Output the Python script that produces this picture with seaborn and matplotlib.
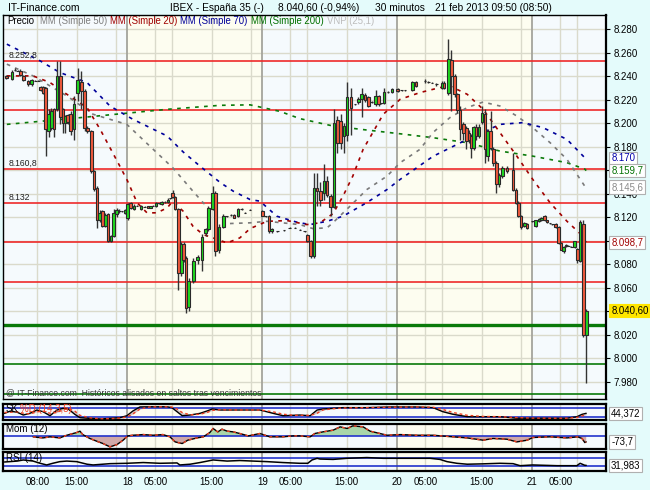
import matplotlib
matplotlib.use("Agg")
import matplotlib.pyplot as plt
import matplotlib.transforms as mtransforms
import numpy as np
import pandas as pd
import seaborn as sns

# ---------------------------------------------------------------- data
candle_time = [
    "15 02:30", "15 03:30", "15 04:00", "15 04:30", "15 05:00", "15 05:30", "15 06:20", "15 07:00", "15 07:40", "15 08:10",
    "15 08:35", "15 09:05", "15 09:30", "15 10:00", "15 10:30", "15 11:00", "15 11:30", "15 12:05", "15 12:35", "15 13:00",
    "15 13:25", "15 13:55", "15 14:30", "15 15:10", "15 15:50", "15 16:25", "15 16:55", "15 17:35", "15 18:05", "15 18:35",
    "15 19:05", "15 19:35", "15 20:05", "15 20:35", "15 21:05", "15 21:35", "15 22:05", "15 22:35", "15 23:05", "15 23:35",
    "18 00:05", "18 00:35", "18 01:10", "18 01:45", "18 02:25", "18 03:05", "18 03:40", "18 04:05", "18 04:35", "18 05:05",
    "18 05:35", "18 06:05", "18 06:40", "18 07:15", "18 07:40", "18 08:05", "18 08:30", "18 09:05", "18 09:35", "18 10:00",
    "18 10:25", "18 10:55", "18 11:45", "18 12:30", "18 13:15", "18 13:55", "18 14:25", "18 15:10", "18 15:40", "18 16:20",
    "18 17:05", "18 17:40", "18 18:25", "18 19:00", "18 19:40", "18 20:20", "18 20:55", "18 21:50",
    "19 00:00", "19 00:35", "19 01:10", "19 01:40", "19 02:40", "19 03:50", "19 04:50", "19 05:50", "19 06:40", "19 07:30",
    "19 08:00", "19 08:35", "19 09:10", "19 09:45", "19 10:20", "19 11:00", "19 11:30", "19 12:10", "19 12:45", "19 13:20",
    "19 13:55", "19 14:30", "19 15:05", "19 15:45", "19 16:30", "19 17:05", "19 17:40", "19 18:15", "19 18:50", "19 19:25",
    "19 20:10", "19 20:40", "19 21:10", "19 21:40", "19 22:20", "19 23:05",
    "20 00:05", "20 00:45", "20 01:20", "20 02:40", "20 03:20", "20 04:55", "20 05:30", "20 06:10", "20 06:55", "20 07:55",
    "20 08:20", "20 09:05", "20 09:35", "20 10:10", "20 10:40", "20 11:10", "20 11:45", "20 12:15", "20 12:45", "20 13:10",
    "20 13:35", "20 14:00", "20 14:30", "20 15:05", "20 15:35", "20 16:05", "20 16:35", "20 17:05", "20 17:35", "20 18:05",
    "20 18:40", "20 19:30", "20 20:35", "20 21:05", "20 21:30", "20 22:00", "20 22:35", "20 23:05",
    "21 00:00", "21 00:35", "21 01:10", "21 01:35", "21 02:10", "21 02:35", "21 03:10", "21 03:35", "21 04:10", "21 04:40",
    "21 05:05", "21 05:35", "21 06:00", "21 06:25", "21 06:55", "21 07:30", "21 08:00", "21 08:30", "21 09:05", "21 09:35",
]
candle_open = [
    8240, 8237.5, 8245, 8244.5, 8244.5, 8240, 8236, 8233, 8236, 8236,
    8231, 8231, 8230, 8193, 8196, 8212, 8212, 8240, 8212, 8200,
    8207, 8208, 8195, 8226, 8235, 8227, 8196, 8193, 8159, 8145,
    8118, 8125, 8113, 8123, 8100, 8104, 8123, 8125, 8125, 8124,
    8119, 8132, 8127, 8130, 8127, 8129, 8129.5, 8128, 8130, 8129.5,
    8132, 8131, 8133, 8133, 8136, 8141, 8137, 8127, 8073, 8097,
    8085, 8044, 8066, 8084, 8084, 8107, 8110, 8127, 8141, 8092,
    8112, 8121, 8122, 8122, 8121, 8127, 8124, 8126.5,
    8125, 8121, 8121, 8108, 8108, 8109, 8111, 8111, 8109.5, 8108,
    8105, 8100, 8087, 8145, 8142, 8141, 8151, 8138, 8129, 8203,
    8202, 8189, 8190, 8222, 8216, 8218, 8221, 8224, 8222, 8218,
    8216, 8223, 8217, 8217.5, 8226.6, 8226.6,
    8229, 8228, 8228, 8228, 8235, 8236, 8235, 8234.6, 8233, 8230,
    8234.6, 8225.5, 8254, 8240, 8224.6, 8211, 8199, 8196, 8192, 8189,
    8179, 8196.5, 8189, 8201, 8208, 8172, 8193, 8178, 8166, 8148,
    8155, 8162, 8160, 8143.6, 8132, 8121, 8112.6, 8114,
    8116.7, 8113, 8116.7, 8117.3, 8121, 8117.5, 8114.8, 8114, 8114, 8112,
    8098, 8091, 8096, 8096, 8095, 8095, 8093, 8083, 8114.6, 8020,
]
candle_high = [
    8241, 8245, 8247, 8245, 8246, 8241, 8237, 8237.5, 8236.5, 8236.5,
    8232, 8232, 8231, 8212, 8213, 8213, 8253, 8253, 8213, 8207,
    8208, 8210, 8223, 8247, 8244, 8229, 8198, 8194, 8160, 8147,
    8126, 8126, 8124, 8124, 8105, 8127, 8128, 8127, 8125.5, 8127,
    8132, 8133, 8131, 8130.5, 8130.5, 8129.5, 8130, 8130, 8130.5, 8133,
    8132.5, 8134, 8133.5, 8136, 8136.5, 8143, 8138, 8128, 8099, 8099,
    8087, 8068, 8085, 8088, 8106, 8111, 8130, 8147, 8142, 8114,
    8123, 8121.5, 8122.5, 8123, 8128, 8127.5, 8124.5, 8127,
    8126, 8121.5, 8122, 8111, 8108.5, 8109.5, 8111.5, 8111.5, 8110, 8108.5,
    8106, 8101, 8158, 8158, 8150, 8165, 8155, 8140, 8212, 8206,
    8208, 8200, 8235, 8230, 8216.5, 8222, 8230, 8226, 8223, 8218.5,
    8228, 8224, 8217.5, 8230, 8227, 8230,
    8230, 8228.5, 8228.5, 8236, 8236, 8237.5, 8235.5, 8235, 8234.5, 8235.5,
    8236, 8271.5, 8262, 8242, 8226, 8215, 8201, 8198, 8194, 8191,
    8198, 8199, 8199, 8215, 8212, 8195, 8210, 8180, 8168, 8158,
    8164, 8164, 8175, 8145, 8134, 8122, 8116, 8115,
    8117, 8118, 8119.5, 8120, 8122, 8118, 8115.2, 8114.4, 8115, 8113,
    8099, 8096, 8097.5, 8096.4, 8095.4, 8100, 8094, 8118, 8118, 8042,
]
candle_low = [
    8238, 8237, 8244, 8244, 8240, 8236, 8232, 8232, 8235.5, 8235.5,
    8227, 8225, 8172, 8188, 8194, 8188, 8210, 8199, 8192, 8192,
    8199, 8190, 8186, 8219, 8212, 8193, 8192, 8158, 8142, 8111,
    8116, 8112, 8112, 8099, 8099, 8103, 8120, 8124, 8124.5, 8123,
    8118, 8127, 8126, 8129.5, 8126, 8128.5, 8127.5, 8127.5, 8129.5, 8129,
    8131.5, 8130.5, 8132.5, 8132.5, 8135.5, 8136, 8126, 8058, 8070, 8082,
    8039, 8040, 8064, 8080, 8074, 8104, 8108, 8126, 8087, 8090,
    8111, 8120.5, 8121.5, 8119, 8120, 8126.5, 8123.5, 8126,
    8121, 8120.5, 8107, 8107, 8107.5, 8108.5, 8110.5, 8110.5, 8109, 8107.5,
    8099, 8085, 8085, 8130, 8130, 8135, 8137, 8121, 8128, 8175,
    8178, 8175, 8185, 8190, 8215.5, 8216, 8205, 8218, 8214, 8217.5,
    8215, 8215, 8216.5, 8216, 8226, 8226,
    8226.5, 8227.5, 8227.5, 8227, 8231, 8234.5, 8234.5, 8234, 8231.5, 8229,
    8229, 8224, 8210, 8222, 8209, 8186, 8186, 8178, 8183, 8170,
    8177, 8186, 8187, 8199, 8166, 8168, 8177, 8164, 8141, 8146,
    8153, 8158, 8142, 8131, 8120, 8110, 8112, 8110,
    8116.4, 8112, 8116, 8117, 8117, 8115, 8114.4, 8113.6, 8111, 8097,
    8092, 8090, 8095, 8095.6, 8094.6, 8094, 8081, 8082, 8018.6, 7979,
]
candle_close = [
    8238.5, 8243.5, 8245.5, 8244.5, 8241, 8236.5, 8233, 8236.5, 8236, 8236,
    8228, 8226, 8195, 8208, 8210, 8195, 8240, 8205, 8200, 8206,
    8201, 8193, 8216, 8237, 8227, 8196, 8193, 8159, 8144, 8118,
    8124, 8113, 8122, 8100, 8104, 8124, 8126, 8125.5, 8125, 8126,
    8131, 8128, 8130, 8130, 8130, 8129, 8128, 8129.5, 8130, 8132,
    8132, 8133, 8133, 8135, 8136, 8137, 8127, 8073, 8097, 8084,
    8043, 8066, 8083, 8086, 8103, 8110, 8128, 8141, 8091, 8112,
    8121, 8121, 8122, 8119.5, 8127, 8127, 8124, 8126.5,
    8121.5, 8121, 8108, 8110, 8108, 8109, 8111, 8111, 8109.5, 8108,
    8100, 8087, 8145, 8142, 8135, 8151, 8139, 8129, 8200, 8183,
    8183, 8197.5, 8222, 8213, 8216, 8221, 8225, 8220, 8215, 8218,
    8223, 8216, 8217, 8226.6, 8226.6, 8229.5,
    8227, 8228, 8228, 8235, 8232, 8236.2, 8235, 8234.6, 8233.2, 8234.6,
    8230, 8255, 8240, 8224.6, 8211, 8195, 8192, 8185, 8186, 8179,
    8196.5, 8189, 8196.5, 8209, 8178, 8193, 8179, 8166, 8148, 8156,
    8162, 8159, 8143.6, 8132, 8121, 8112, 8115, 8111,
    8116.7, 8117.5, 8118.7, 8119.5, 8117.5, 8115.8, 8114.8, 8114, 8112, 8098,
    8092.5, 8095, 8096.2, 8096, 8095, 8099.5, 8084, 8116, 8020, 8040.6,
]

ma20_time = ["15 02:35", "15 07:15", "15 10:15", "15 13:15", "15 16:50", "15 19:10", "15 20:55", "15 22:40",
             "18 00:00", "18 01:45", "18 03:30", "18 05:15", "18 07:05", "18 08:05", "18 09:55", "18 11:40",
             "18 13:30", "18 15:15", "18 17:45", "18 20:00", "18 21:50", "19 00:50", "19 04:25", "19 07:55",
             "19 10:15", "19 12:35", "19 14:20", "19 16:05", "19 17:55", "19 21:30", "20 00:30", "20 04:00",
             "20 07:35", "20 09:20", "20 12:25", "20 15:15", "20 18:15", "20 21:15", "21 00:05", "21 03:10",
             "21 06:10", "21 08:30", "21 09:35"]
ma20_val = [8240.2, 8240.2, 8234.6, 8224.6, 8213.3, 8194.8, 8179.2, 8163.5,
            8151.3, 8132.3, 8123.8, 8123.8, 8128.0, 8133.7, 8125.2, 8112.4,
            8105.3, 8102.5, 8098.2, 8102.5, 8110.4, 8116.6, 8117.2, 8113.8,
            8115.3, 8123.2, 8137.9, 8155.0, 8177.7, 8207.6, 8220.3, 8226.0,
            8230.3, 8231.7, 8224.6, 8211.8, 8192.0, 8172.0, 8152.2, 8132.3,
            8116.6, 8106.1, 8098.7]

ma50_time = ["15 02:35", "15 07:15", "15 13:15", "15 17:55", "15 23:55", "18 04:00", "18 08:05", "18 11:40",
             "18 13:30", "18 15:55", "18 18:15", "18 21:50", "19 00:50", "19 06:40", "19 09:00", "19 11:30",
             "19 12:35", "19 15:35", "19 18:35", "19 22:10", "20 00:30", "20 04:00", "20 06:20", "20 09:20",
             "20 12:25", "20 15:15", "20 18:15", "20 21:15", "21 00:05", "21 03:10", "21 06:10", "21 09:20",
             "21 09:35"]
ma50_val = [8250.2, 8240.2, 8223.2, 8207.6, 8199.0, 8180.5, 8162.1, 8142.2,
            8132.3, 8120.9, 8114.7, 8115.3, 8116.6, 8113.8, 8110.4, 8111.0,
            8115.5, 8129.4, 8143.6, 8155.0, 8166.4, 8177.7, 8192.0, 8204.7,
            8213.3, 8218.0, 8214.6, 8206.1, 8196.2, 8183.4, 8169.2, 8146.4,
            8145.6]

ma70_time = ["15 02:35", "15 08:30", "15 12:00", "15 16:50", "15 20:55", "18 01:00", "18 07:05", "18 09:55",
             "18 13:00", "18 16:30", "18 18:50", "18 21:50", "18 23:35", "19 02:35", "19 06:10", "19 08:30",
             "19 11:30", "19 14:20", "19 18:35", "19 22:10", "20 00:30", "20 06:20", "20 12:25", "20 18:15",
             "20 22:25", "21 01:55", "21 06:10", "21 09:20", "21 09:35"]
ma70_val = [8267.2, 8253.0, 8243.1, 8234.6, 8214.6, 8203.3, 8189.1, 8175.6,
            8163.2, 8149.6, 8142.2, 8135.1, 8133.7, 8120.9, 8115.8, 8113.8,
            8116.6, 8120.9, 8132.5, 8143.6, 8152.2, 8171.8, 8186.2, 8199.0,
            8200.5, 8196.2, 8186.2, 8170.6, 8170.0]

ma200_time = ["15 02:35", "15 15:35", "18 07:05", "18 16:30", "18 21:50", "19 03:10", "19 06:40", "19 12:35",
              "19 18:35", "20 00:30", "20 06:20", "20 12:25", "20 18:15", "21 00:05", "21 06:10", "21 09:20",
              "21 09:35"]
ma200_val = [8199.0, 8204.7, 8211.8, 8215.2, 8215.6, 8210.0, 8203.9, 8197.6,
             8194.2, 8191.0, 8187.7, 8183.4, 8176.3, 8172.0, 8166.4, 8161.0,
             8159.7]

level_red = [8252.8, 8211.2, 8160.8, 8132.0, 8098.7, 8065.0]
level_green = [8028.0, 7995.0, 7969.5]
level_green_width = [2.4, 1.2, 1.2]
level_label_val = [8252.8, 8160.8, 8132.0]
level_label_txt = ["8.252,8", "8.160,8", "8.132"]

sk_time = ["15 02:10", "15 03:10", "15 04:25", "15 05:30", "15 06:40", "15 07:55", "15 09:00", "15 10:15",
           "15 11:30", "15 12:35", "15 13:30", "15 14:40", "15 15:35", "15 17:20", "15 19:10", "15 20:55",
           "15 22:40", "15 23:55", "18 01:00", "18 02:15", "18 04:00", "18 07:05", "18 07:55", "18 08:50",
           "18 09:45", "18 11:10", "18 12:55", "18 14:10", "18 15:05", "18 16:30", "18 18:50", "18 21:15",
           "18 23:35", "19 01:55", "19 03:40", "19 05:30", "19 06:40", "19 08:30", "19 09:45", "19 10:45",
           "19 12:35", "19 14:20", "19 18:35", "19 22:40", "20 03:30", "20 06:20", "20 08:05", "20 09:55",
           "20 12:25", "20 15:15", "20 18:15", "20 21:15", "21 00:05", "21 03:10", "21 06:10", "21 07:55",
           "21 08:50", "21 09:35"]
sk_val = [44, 60, 52, 32, 44, 68, 56, 27, 68, 80, 75, 37, 13, 8, 4, 8, 13, 27, 61, 90,
          91, 91, 85, 56, 27, 32, 44, 61, 75, 68, 68, 68, 68, 44, 27, 30, 32, 27, 68, 75,
          80, 85, 85, 90, 90, 85, 56, 37, 20, 20, 20, 9, 9, 9, 9, 20, 37, 44.372]
sd_val = [50, 52, 55, 45, 40, 55, 60, 45, 50, 70, 78, 60, 30, 12, 6, 6, 10, 18, 40, 75,
          90, 91, 89, 75, 50, 33, 38, 50, 65, 70, 68, 68, 68, 55, 38, 30, 30, 29, 45, 68,
          77, 82, 85, 88, 90, 88, 72, 50, 30, 22, 20, 14, 10, 9, 9, 14, 25, 35]

mom_time = ["15 07:15", "15 09:00", "15 10:15", "15 12:00", "15 13:15", "15 15:00", "15 15:35", "15 16:05",
            "15 17:20", "15 18:35", "15 19:40", "15 20:55", "15 22:10", "15 23:15", "18 00:05", "18 01:00",
            "18 02:50", "18 04:35", "18 06:20", "18 07:35", "18 08:30", "18 09:45", "18 10:45", "18 12:25",
            "18 13:30", "18 14:40", "18 15:15", "18 16:05", "18 16:50", "18 17:45", "18 18:50", "18 20:00",
            "18 21:30", "18 23:35", "19 01:20", "19 03:40", "19 05:30", "19 06:40", "19 08:30", "19 09:20",
            "19 10:45", "19 12:35", "19 13:50", "19 15:05", "19 16:05", "19 17:55", "19 19:10", "19 20:55",
            "19 22:10", "20 00:30", "20 03:30", "20 06:20", "20 09:55", "20 12:25", "20 15:15", "20 17:00",
            "20 19:30", "20 21:15", "20 23:05", "21 00:05", "21 03:10", "21 06:10", "21 08:05", "21 08:50",
            "21 09:20", "21 09:35"]
mom_val = [-12, -25, -12, -25, 8, 41, 58, 16, -32, -66, -94, -135, -107, -53, 0, 8,
           16, 8, 16, -12, -74, -94, -53, -25, -12, 41, 91, 49, 82, 58, 49, 29,
           0, 29, -12, -12, 0, 0, -12, 29, 49, 70, 111, 91, 123, 111, 58, 29,
           8, 16, 8, 8, -12, -25, -53, -32, -41, -74, -53, -20, -12, -25, -12, -32,
           -82, -73.7]

rsi_time = ["15 02:10", "15 04:25", "15 05:30", "15 07:15", "15 08:30", "15 09:40", "15 10:45", "15 12:00",
            "15 13:15", "15 15:00", "15 16:50", "15 17:55", "15 20:55", "15 23:55", "18 02:50", "18 05:50",
            "18 08:50", "18 09:20", "18 11:10", "18 12:55", "18 15:15", "18 17:45", "18 20:00", "18 22:20",
            "19 00:50", "19 03:40", "19 06:40", "19 08:05", "19 08:50", "19 09:45", "19 10:15", "19 12:35",
            "19 15:05", "19 18:35", "19 21:30", "20 00:00", "20 02:15", "20 05:50", "20 07:35", "20 08:50",
            "20 10:35", "20 12:25", "20 15:15", "20 18:15", "20 20:35", "20 21:50", "21 00:05", "21 04:25",
            "21 06:10", "21 07:55", "21 08:30", "21 09:20", "21 09:35"]
rsi_val = [50, 55, 61, 55, 43, 34, 43, 52, 55, 52, 38, 34, 41, 43, 47, 43,
           45, 34, 38, 47, 61, 55, 58, 55, 52, 47, 43, 43, 61, 70, 66, 64,
           70, 74, 70, 70, 70, 70, 64, 52, 43, 38, 40, 43, 41, 30, 34, 30,
           30, 30, 43, 32, 31.983]

price_ticks = list(range(7980, 8281, 20))
hidden_ticks = [8160, 8100, 8040]          # covered by the value boxes in the original
xtick_time = ["15 08:00", "15 15:00", "18 00:00", "18 05:00", "18 15:00", "19 00:00", "19 05:00",
              "19 15:00", "20 00:00", "20 05:00", "20 15:00", "21 00:00", "21 05:00"]
xtick_label = ["08:00", "15:00", "18", "05:00", "15:00", "19", "05:00",
               "15:00", "20", "05:00", "15:00", "21", "05:00"]

# ---------------------------------------------------------------- helpers
DAY_INDEX = {"15": 0, "18": 1, "19": 2, "20": 3, "21": 4}


def tpos(s):
    d, hm = s.split()
    hh, mm = hm.split(":")
    return DAY_INDEX[d] * 24 + int(hh) + int(mm) / 60.0


W, H, DPI = 650, 490, 100
BG = "#e4fbfb"
DAY_BG = ["#f5fafd", "#fdfdf0", "#f5fafd", "#fdfdf0", "#f5fafd"]
GRID = "#dadacb"
X0, X1 = 1.9, 109.1

sns.set_theme(style="white")
plt.rcParams["font.family"] = ["Liberation Sans", "DejaVu Sans"]

fig = plt.figure(figsize=(W / DPI, H / DPI), dpi=DPI)
fig.patch.set_facecolor(BG)


def rect(x0, y0, x1, y1):
    return [x0 / W, 1 - y1 / H, (x1 - x0) / W, (y1 - y0) / H]


ax = fig.add_axes(rect(3, 15, 606, 399))
ax_sk = fig.add_axes(rect(3, 404, 606, 420))
ax_mom = fig.add_axes(rect(3, 423.5, 606, 448.5))
ax_rsi = fig.add_axes(rect(3, 452, 606, 471))
panels = [ax, ax_sk, ax_mom, ax_rsi]

for a in panels:
    a.set_facecolor("white")
    for d in range(5):
        a.axvspan(max(d * 24, X0), min((d + 1) * 24, X1), color=DAY_BG[d], zorder=0, lw=0)
    for d in range(5):
        for hh in ((8, 15, 22) if d == 0 else (5, 8, 15, 22)):
            tt = d * 24 + hh
            if X0 < tt < X1:
                a.axvline(tt, color=GRID, lw=1.0, zorder=0.5)
    for d in range(1, 5):
        a.axvline(d * 24, color="#a4a49c", lw=1.3, zorder=0.6)
    for s in a.spines.values():
        s.set_color("black")
        s.set_linewidth(1.6 if a is not ax else 1.0)
    a.tick_params(axis="x", bottom=False, labelbottom=False)
    a.tick_params(axis="y", left=False, labelleft=False, right=False, labelright=False)


def sline(a, times, vals, color, lw=1.0, ls="-", z=3):
    df = pd.DataFrame({"t": [tpos(s) for s in times], "v": vals})
    sns.lineplot(data=df, x="t", y="v", ax=a, color=color, linewidth=lw, linestyle=ls,
                 sort=False, estimator=None, legend=False, zorder=z)
    a.set_xlabel("")
    a.set_ylabel("")


# ---------------------------------------------------------------- main price panel
for v in price_ticks:
    ax.axhline(v, color=GRID, lw=1.0, zorder=0.5)
for v in level_red:
    ax.axhline(v, color="#ee2a2a", lw=1.2, zorder=1.5)
for v, w in zip(level_green, level_green_width):
    ax.axhline(v, color="#0a7a0a", lw=w, zorder=1.5)

DASH = (0, (2.2, 3.2))
sline(ax, ma200_time, ma200_val, "#0a7a0a", 1.2, DASH, 2)
sline(ax, ma50_time, ma50_val, "#7a7a7a", 1.2, DASH, 2)
sline(ax, ma70_time, ma70_val, "#00009a", 1.2, DASH, 2)
sline(ax, ma20_time, ma20_val, "#a00000", 1.2, DASH, 2)

t = np.array([tpos(s) for s in candle_time])
o = np.array(candle_open, float)
hi = np.array(candle_high, float)
lo = np.array(candle_low, float)
c = np.array(candle_close, float)
up = c >= o
ax.vlines(t, lo, hi, color="#333333", lw=1.0, zorder=3)
ax.bar(t, np.abs(c - o), bottom=np.minimum(o, c), width=0.46,
       color=np.where(up, "#1fdc1f", "#f45a3c"), edgecolor="#2a2a2a", linewidth=0.8, zorder=4)

ax.set_xlim(X0, X1)
ax.set_ylim(7965.5, 8292)
ax.yaxis.tick_right()
ax.set_yticks(price_ticks)
ax.set_yticklabels(["" if v in hidden_ticks else f"{v // 1000}.{v % 1000:03d}" for v in price_ticks])
ax.tick_params(axis="y", right=True, labelright=True, left=False, labelleft=False,
               direction="out", length=3, width=0.8, pad=2.5, labelsize=7, colors="black")
ax.spines["right"].set_linewidth(1.6)

blend = mtransforms.blended_transform_factory(ax.transAxes, ax.transData)
for v, txt in zip(level_label_val, level_label_txt):
    ax.text(0.0085, v + 1.2, txt, transform=blend, fontsize=6.2, color="#222222",
            ha="left", va="bottom", zorder=6)

boxes = [(8170.0, "8.170", "#0000aa", "white"),
         (8159.7, "8.159,7", "#007000", "white"),
         (8145.6, "8.145,6", "#8a8a8a", "white"),
         (8098.7, "8.098,7", "#a00000", "white"),
         (8040.6, "8.040,60", "black", "#ffe600")]
for v, txt, col, fc in boxes:
    ec = "#b0b0b0" if fc == "white" else fc
    ax.text(1.0085, v, txt, transform=blend, fontsize=6.9, color=col, ha="left", va="center",
            clip_on=False, zorder=10,
            bbox=dict(boxstyle="square,pad=0.18", fc=fc, ec=ec, lw=0.8))

ax.text(0.005, 0.016, "@ IT-Finance.com  Históricos alisados en saltos tras vencimientos",
        transform=ax.transAxes, fontsize=6.2, color="#333333", ha="left", va="center", zorder=6)

# ---------------------------------------------------------------- sub panels
sk_t = np.array([tpos(s) for s in sk_time])
ax_sk.fill_between(sk_t, sk_val, sd_val, color="#d2c4c4", lw=0, zorder=1.5)
for v in (20, 80):
    ax_sk.axhline(v, color="#2233cc", lw=1.2, zorder=2)
sline(ax_sk, sk_time, sk_val, "black", 1.0, "-", 3)
sline(ax_sk, sk_time, sd_val, "#f04020", 1.0, (0, (2, 2)), 3.5)
ax_sk.set_xlim(X0, X1)
ax_sk.set_ylim(-3.6, 110.9)

mom_t = np.array([tpos(s) for s in mom_time])
mv = np.array(mom_val, float)
ax_mom.fill_between(mom_t, mv, 0, where=mv >= 0, interpolate=True, color="#a9d6a9", lw=0, zorder=1.5)
ax_mom.fill_between(mom_t, mv, 0, where=mv <= 0, interpolate=True, color="#cfa8a8", lw=0, zorder=1.5)
ax_mom.axhline(0, color="#2233cc", lw=1.2, zorder=2)
sline(ax_mom, mom_time, mom_val, "black", 1.0, "-", 3)
sline(ax_mom, mom_time, mom_val, "#f04020", 1.0, (0, (2, 2.5)), 3.5)
ax_mom.set_xlim(X0, X1)
ax_mom.set_ylim(-155, 152)

for v in (30, 70):
    ax_rsi.axhline(v, color="#2233cc", lw=1.2, zorder=2)
sline(ax_rsi, rsi_time, rsi_val, "black", 1.1, "-", 3)
ax_rsi.set_xlim(X0, X1)
ax_rsi.set_ylim(1.3, 104.1)
ax_rsi.set_xticks([tpos(s) for s in xtick_time])
ax_rsi.set_xticklabels(xtick_label)
ax_rsi.tick_params(axis="x", bottom=True, labelbottom=True, length=0, pad=4,
                   labelsize=7, colors="black")

sub_boxes = [(ax_sk, 44.372, "44,372"), (ax_mom, -73.7, "-73,7"), (ax_rsi, 31.983, "31,983")]
for a, v, txt in sub_boxes:
    tr = mtransforms.blended_transform_factory(a.transAxes, a.transData)
    a.text(1.0085, v, txt, transform=tr, fontsize=6.9, color="black", ha="left", va="center",
           clip_on=False, zorder=10, bbox=dict(boxstyle="square,pad=0.18", fc="white", ec="#b0b0b0", lw=0.8))

# ---------------------------------------------------------------- texts
fig.text(8 / W, 1 - 8 / H, "IT-Finance.com", fontsize=7.5, color="black", va="center", ha="left")
title_parts = [(170, "IBEX - España 35 (-)"), (278, "8.040,60 (-0,94%)"),
               (375, "30 minutos"), (435, "21 feb 2013 09:50 (08:50)")]
for xp, txt in title_parts:
    fig.text(xp / W, 1 - 8 / H, txt, fontsize=7.3, color="black", va="center", ha="left")

legend_parts = [(7.5, "Precio", "black"), (40, "MM (Simple 50)", "#808080"),
                (110, "MM (Simple 20)", "#a00000"), (180, "MM (Simple 70)", "#00009a"),
                (251, "MM (Simple 200)", "#007000"), (327, "VNP (25,1)", "#bdbdbd")]
for xp, txt, col in legend_parts:
    fig.text(xp / W, 1 - 21.5 / H, txt, fontsize=6.9, color=col, va="center", ha="left", zorder=12)

fig.text(6 / W, 1 - 409 / H, "SK", fontsize=7, color="black", va="center", ha="left", zorder=12)
fig.text(20 / W, 1 - 409 / H, "%D (14,3,5)", fontsize=7, color="#f04020", va="center", ha="left", zorder=12)
fig.text(6 / W, 1 - 429 / H, "Mom (12)", fontsize=7, color="black", va="center", ha="left", zorder=12)
fig.text(6 / W, 1 - 457.5 / H, "RSI (14)", fontsize=7, color="black", va="center", ha="left", zorder=12)

fig.savefig("out.png", dpi=DPI, facecolor=fig.get_facecolor())
